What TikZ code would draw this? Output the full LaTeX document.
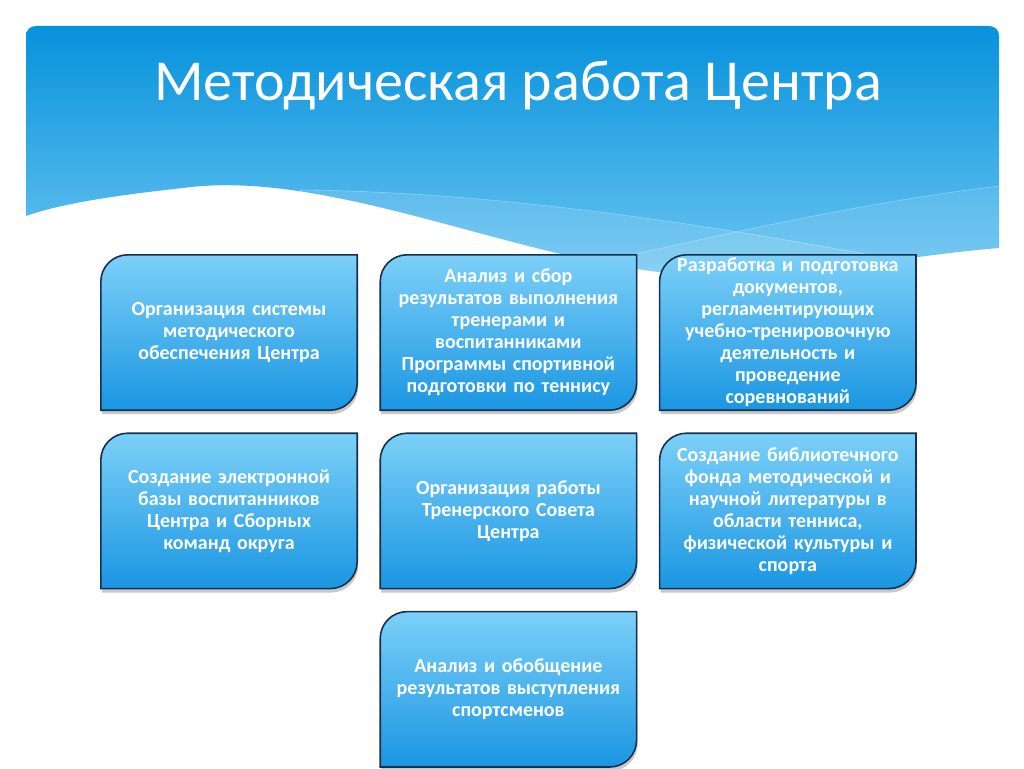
\documentclass[tikz,border=0pt]{standalone}
\usepackage{fontspec}
\setmainfont{Carlito}
\usetikzlibrary{positioning,backgrounds,shadows}

\definecolor{headtop}{RGB}{6,146,220}
\definecolor{headbot}{RGB}{110,198,242}
\definecolor{boxtop}{RGB}{124,208,248}
\definecolor{boxbot}{RGB}{26,150,226}
\definecolor{boxline}{RGB}{22,48,78}

\begin{document}
\begin{tikzpicture}[x=1pt,y=-1pt,node distance=23pt,
    task/.style={minimum width=256pt,minimum height=155pt,text width=252pt,align=center,
      inner sep=0pt,text=white,font=\fontsize{20}{22}\selectfont\bfseries}]
        \useasboundingbox (0,0) rectangle (1024,768);

        % title
        \node [anchor=base,text=white,font=\fontsize{58}{58}\selectfont] (title) at (518,100)
          {Методическая работа Центра};

        % boxes
        \node [task] (org) at (229,332.5)
          {Организация системы\\методического\\обеспечения Центра};
        \node [task,right=of org] (anal)
          {Анализ и сбор\\результатов выполнения\\тренерами и\\воспитанниками\\Программы спортивной\\подготовки по теннису};
        \node [task,right=of anal] (docs)
          {Разработка и подготовка\\документов,\\регламентирующих\\учебно-тренировочную\\деятельность и\\проведение\\соревнований};
        \node [task,below=of org] (base)
          {Создание электронной\\базы воспитанников\\Центра и Сборных\\команд округа};
        \node [task,below=of anal] (council)
          {Организация работы\\Тренерского Совета\\Центра};
        \node [task,below=of docs] (lib)
          {Создание библиотечного\\фонда методической и\\научной литературы в\\области тенниса,\\физической культуры и\\спорта};
        \node [task,below=of council] (perf)
          {Анализ и обобщение\\результатов выступления\\спортсменов};

        \begin{scope}[on background layer]
          % header band with the wave
          \shade [top color=headtop,bottom color=headbot]
            (26,216) -- (26,36) .. controls (26,30) and (30,26) .. (36,26) -- (989,26)
            .. controls (995,26) and (999,30) .. (999,36) -- (999,248)
            .. controls (900,256) and (780,282) .. (680,274)
            .. controls (520,262) and (330,168) .. (183,188)
            .. controls (110,196) and (60,204) .. (26,216) -- cycle;
          \begin{scope}
            \clip (26,216) -- (26,26) -- (999,26) -- (999,248)
              .. controls (900,256) and (780,282) .. (680,274)
              .. controls (520,262) and (330,168) .. (183,188)
              .. controls (110,196) and (60,204) .. (26,216) -- cycle;
            \fill [white,opacity=.12] (300,190) .. controls (520,192) and (760,232) .. (1000,280)
              -- (1000,320) -- (300,320) -- cycle;
            \fill [white,opacity=.1] (600,262) .. controls (760,226) and (880,200) .. (1000,186)
              -- (1000,320) -- (600,320) -- cycle;
            \draw [white,opacity=.35,line width=.6pt] (300,190) .. controls (520,192) and (760,232) .. (1000,280);
            \draw [white,opacity=.35,line width=.6pt] (600,262) .. controls (760,226) and (880,200) .. (1000,186);
          \end{scope}

          % box outlines
          \foreach \n in {org,anal,docs,base,council,lib,perf} {
            \shadedraw [top color=boxtop,bottom color=boxbot,draw=boxline,line width=1.6pt,
              drop shadow={shadow xshift=1pt,shadow yshift=-4pt,opacity=.3,fill=black!70}]
              ([yshift=-27pt]\n.north west) .. controls ([yshift=-12pt]\n.north west) and ([xshift=12pt]\n.north west)
              .. ([xshift=27pt]\n.north west) -- (\n.north east) -- ([yshift=27pt]\n.south east)
              .. controls ([yshift=12pt]\n.south east) and ([xshift=-12pt]\n.south east)
              .. ([xshift=-27pt]\n.south east) -- (\n.south west) -- cycle;
          }
        \end{scope}
    \end{tikzpicture}
\end{document}
